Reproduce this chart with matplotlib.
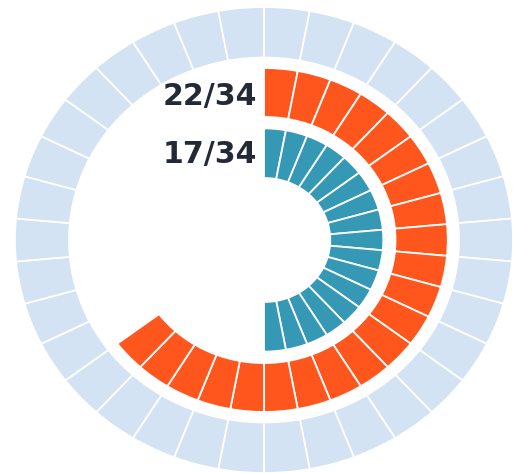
import matplotlib
matplotlib.use("Agg")
import matplotlib.pyplot as plt

total = 34
outer_values = [1] * total
orange_count = 22
teal_count = 17
labels = ["22/34", "17/34"]

c_bg = "#d3e3f3"
c_orange = "#ff561e"
c_teal = "#3599b6"
c_text = "#232a36"

fig = plt.figure(figsize=(5.13, 4.73), dpi=100)
ax = fig.add_axes([15/513, 0, 498/513, 466/473])

wp = dict(edgecolor="white", linewidth=1.3)

# outer background ring
ax.pie(outer_values, radius=1.0, startangle=90, counterclock=False,
       colors=[c_bg] * total, wedgeprops=dict(width=0.217, **wp))

# orange ring
o_vals = [1] * total
o_cols = [c_orange] * orange_count + ["none"] * (total - orange_count)
wedges, _ = ax.pie(o_vals, radius=0.738, startangle=90, counterclock=False,
                   colors=o_cols, wedgeprops=dict(width=0.21, **wp))
for w in wedges[orange_count:]:
    w.set_edgecolor("none")

# teal ring
t_vals = [1] * total
t_cols = [c_teal] * teal_count + ["none"] * (total - teal_count)
wedges, _ = ax.pie(t_vals, radius=0.479, startangle=90, counterclock=False,
                   colors=t_cols, wedgeprops=dict(width=0.213, **wp))
for w in wedges[teal_count:]:
    w.set_edgecolor("none")

ax.set_aspect("auto")
ax.set_xlim(-1, 1)
ax.set_ylim(-1, 1)
ax.axis("off")

fig.text(257/513, 1 - 96/473, labels[0], ha="right", va="center",
         fontsize=21.6, fontweight="bold", color=c_text, family="DejaVu Sans")
fig.text(257/513, 1 - 154/473, labels[1], ha="right", va="center",
         fontsize=21.6, fontweight="bold", color=c_text, family="DejaVu Sans")

fig.savefig("out.png", dpi=100)
